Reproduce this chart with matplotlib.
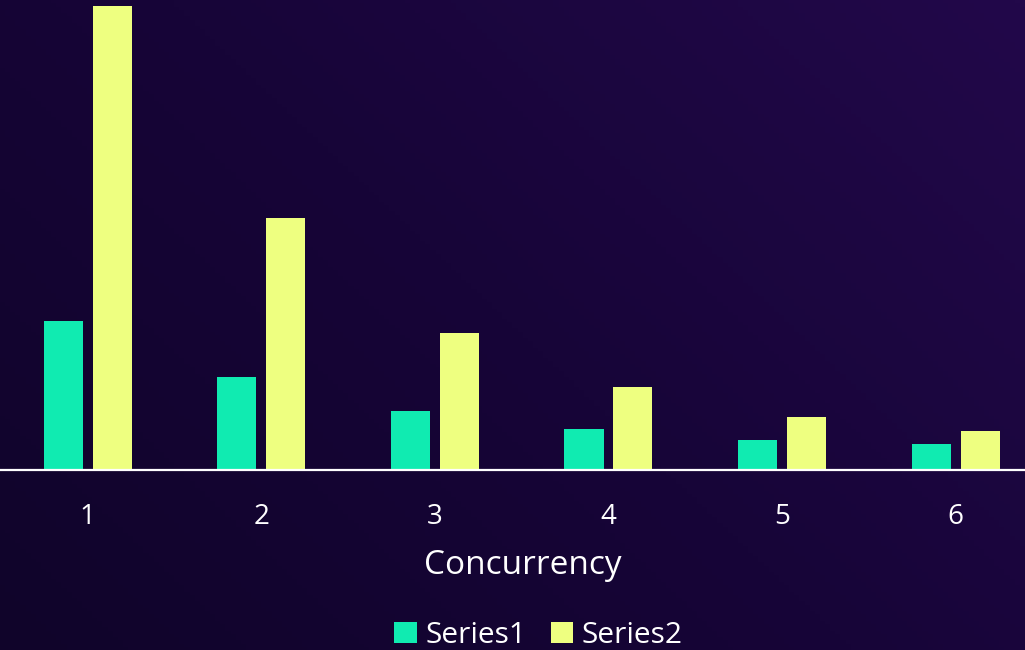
import numpy as np
import matplotlib.pyplot as plt
from matplotlib.colors import LinearSegmentedColormap

categories = ['1', '2', '3', '4', '5', '6']
series1 = [149, 93, 59, 41, 30, 26]
series2 = [464, 252, 137, 83, 53, 39]

plt.rcParams['font.family'] = ['Open Sans', 'DejaVu Sans']

fig = plt.figure(figsize=(10.25, 6.5), dpi=100)

# background gradient (dark purple, lighter toward top-right)
bg = fig.add_axes([0, 0, 1, 1], zorder=0)
gx, gy = np.meshgrid(np.linspace(0, 1, 200), np.linspace(0, 1, 200))
grad = 0.6 * gx + 0.4 * gy
cmap = LinearSegmentedColormap.from_list('bg', ['#10042a', '#170538', '#22084a'])
bg.imshow(grad, cmap=cmap, origin='lower', aspect='auto', extent=[0, 1, 0, 1])
bg.axis('off')

ax = fig.add_axes([1 / 1025, 1 - 470 / 650, 1 - 1 / 1025, 470 / 650], zorder=1)
ax.patch.set_alpha(0)

x = np.arange(len(categories))
w = 0.225
off = 0.141
ax.bar(x - off, series1, w, color='#10ebb1', label='Series1')
ax.bar(x + off, series2, w, color='#eeff80', label='Series2')

ax.set_xlim(-0.5, 5.4)
ax.set_ylim(0, 470)
ax.set_xticks(x)
ax.set_xticklabels(categories)
ax.set_yticks([])
for s in ['top', 'right', 'left']:
    ax.spines[s].set_visible(False)
ax.spines['bottom'].set_color('white')
ax.spines['bottom'].set_linewidth(1.6)
ax.tick_params(axis='x', length=0, pad=24, labelsize=20, colors='white')
ax.set_xlabel('Concurrency', fontsize=24, color='white')
ax.xaxis.set_label_coords(0.51, -0.168)

ax.legend(loc='center', bbox_to_anchor=(0.525, -0.352), ncol=2, frameon=False,
          fontsize=21.5, labelcolor='white', handlelength=0.75, handleheight=0.75,
          handletextpad=0.3, columnspacing=0.8)

fig.savefig('out.png', dpi=100, facecolor='#150535')
